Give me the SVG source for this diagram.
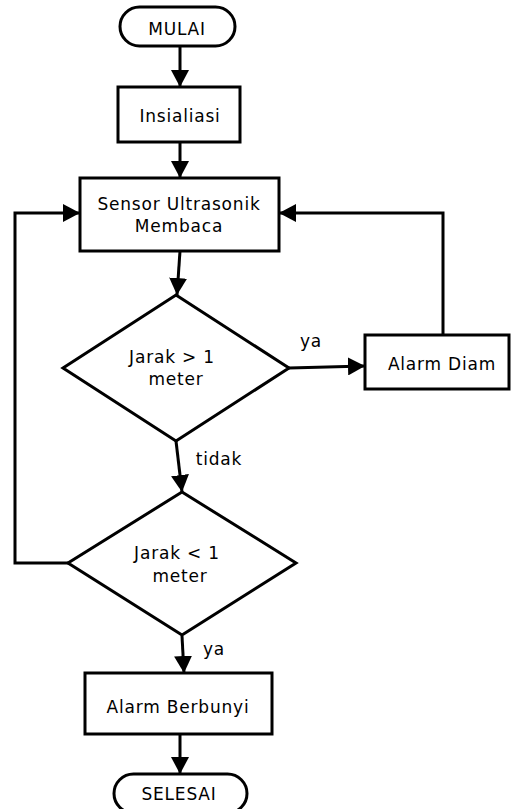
<svg xmlns="http://www.w3.org/2000/svg" width="511" height="809" viewBox="0 0 511 809">
<style>
.s{fill:#fff;stroke:#000;stroke-width:3}
.c{fill:none;stroke:#000;stroke-width:3;marker-end:url(#ah)}
text{font-family:"DejaVu Sans","Verdana",sans-serif;font-size:17px;letter-spacing:0.8px;fill:#000;text-anchor:middle}
</style>
<defs>
<marker id="ah" markerUnits="userSpaceOnUse" markerWidth="18" markerHeight="18" refX="17" refY="9" orient="auto">
<path d="M0,0 L17,9 L0,18 Z" fill="#000"/>
</marker>
</defs>
<rect width="511" height="809" fill="#fff"/>
<g id="connectors">
<line class="c" x1="180" y1="46" x2="180" y2="87"/>
<line class="c" x1="180" y1="142" x2="180" y2="178"/>
<line class="c" x1="180" y1="251" x2="177" y2="295"/>
<line class="c" x1="289" y1="368" x2="365" y2="366"/>
<polyline class="c" points="443,335 443,213 279,213"/>
<line class="c" x1="176" y1="441" x2="182" y2="492"/>
<polyline class="c" points="68,563 15,563 15,213 80,213"/>
<line class="c" x1="182" y1="636" x2="184" y2="673"/>
<line class="c" x1="180" y1="735" x2="180" y2="774"/>
</g>
<g id="mulai"><rect class="s" x="120" y="7" width="115" height="39" rx="19.5"/><text x="177" y="35">MULAI</text></g>
<g id="insialiasi"><rect class="s" x="118" y="87" width="122" height="55"/><text x="180" y="122">Insialiasi</text></g>
<g id="sensor"><rect class="s" x="80" y="178" width="199" height="73"/><text x="179" y="210">Sensor Ultrasonik</text><text x="179" y="232">Membaca</text></g>
<g id="jarak1"><polygon class="s" points="176,295 289,368 176,441 63,368"/><text x="172" y="363">Jarak &gt; 1</text><text x="176" y="385">meter</text></g>
<g id="alarmdiam"><rect class="s" x="365" y="335" width="144" height="54"/><text x="442" y="370">Alarm Diam</text></g>
<g id="jarak2"><polygon class="s" points="182,492 296,563 182,635 68,563"/><text x="177" y="559">Jarak &lt; 1</text><text x="180" y="582">meter</text></g>
<g id="alarmberbunyi"><rect class="s" x="85" y="673" width="187" height="61"/><text x="178" y="713">Alarm Berbunyi</text></g>
<g id="selesai"><rect class="s" x="114" y="774" width="133" height="39" rx="19.5"/><text x="179" y="800">SELESAI</text></g>
<g id="labels"><text x="311" y="347">ya</text><text x="219" y="465">tidak</text><text x="214" y="655">ya</text></g>
</svg>
